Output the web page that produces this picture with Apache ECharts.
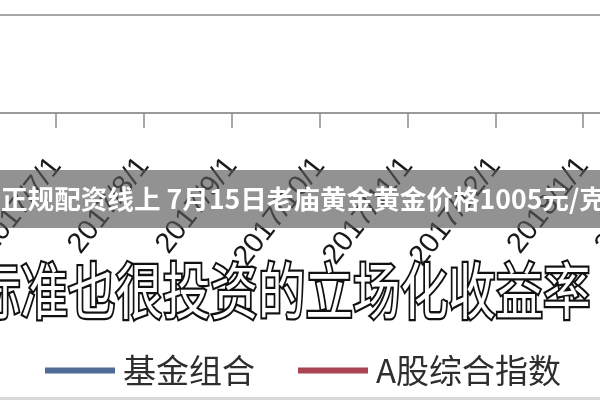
<!DOCTYPE html>
<html><head><meta charset="utf-8">
<script src="https://cdn.jsdelivr.net/npm/echarts@6/dist/echarts.min.js"></script>
<style>html,body{margin:0;padding:0;background:#fff}#c{width:600px;height:400px}</style>
</head><body><div id="c"></div>
<script>
// Categories (x-axis tick labels); first and last fall outside the cropped view
const categories = ['2017/6/1','2017/7/1','2017/8/1','2017/9/1','2017/10/1','2017/11/1','2017/12/1','2018/1/1','2018/2/1'];
// Series names (legend)
const seriesNames = ['基金组合','A股综合指数'];
// No line is visible inside the cropped plot area, so the series carry no points
const fundValues = [];
const indexValues = [];
// Overlay texts
const bannerText = '正规配资线上 7月15日老庙黄金黄金价格1005元/克';
const bigText = '标准也很投资的立场化收益率';

const chart = echarts.init(document.getElementById('c'), null, {renderer:'canvas'});
chart.setOption({
  animation:false,
  backgroundColor:'#fff',
  grid:{left:-32, right:-71, top:15, bottom:287, containLabel:false, outerBoundsMode:'none'},
  legend:{
    left:40, top:349, itemWidth:70, itemHeight:6, itemGap:43, icon:'rect',
    textStyle:{fontSize:33, color:'#2e2e2e', fontFamily:'"Noto Sans CJK SC"', padding:[0,0,0,3]},
    data:seriesNames
  },
  xAxis:{
    type:'category', data:categories, boundaryGap:false,
    axisLine:{lineStyle:{color:'#9a9a9a', width:2}},
    axisTick:{show:true, length:15, lineStyle:{color:'#8a8a8a', width:1.5}},
    axisLabel:{interval:0, rotate:52, margin:48, fontSize:29, color:'#1a1a1a', fontFamily:'"Liberation Sans", Arial', hideOverlap:false}
  },
  yAxis:{
    type:'value', min:0, max:1, interval:1,
    axisLabel:{show:false}, axisLine:{show:false}, axisTick:{show:false},
    splitLine:{show:true, lineStyle:{color:'#a8a8a8', width:2}}
  },
  series:[
    {name:seriesNames[0], type:'line', data:fundValues, itemStyle:{color:'#4f6b96'}, lineStyle:{color:'#4f6b96', width:3}, showSymbol:false},
    {name:seriesNames[1], type:'line', data:indexValues, itemStyle:{color:'#a94452'}, lineStyle:{color:'#a94452', width:3}, showSymbol:false}
  ],
  graphic:[
    {type:'rect', z:100, shape:{x:0, y:170, width:600, height:58}, style:{fill:'rgba(90,90,90,0.66)'}},
    {type:'text', z:101, x:1, y:199, style:{text:bannerText, font:'bold 26.6px "Noto Sans CJK SC"', fill:'#fff', textVerticalAlign:'middle', verticalAlign:'middle'}},
    {type:'text', z:102, x:-27, y:291, scaleY:1.3, style:{text:bigText, font:'47.5px "Noto Sans CJK SC"', fill:'#fff', stroke:'#111', lineWidth:3.5, textVerticalAlign:'middle', verticalAlign:'middle'}},
    {type:'rect', z:100, shape:{x:0, y:397, width:600, height:3}, style:{fill:'#d8d8d8'}}
  ]
});
</script></body></html>
